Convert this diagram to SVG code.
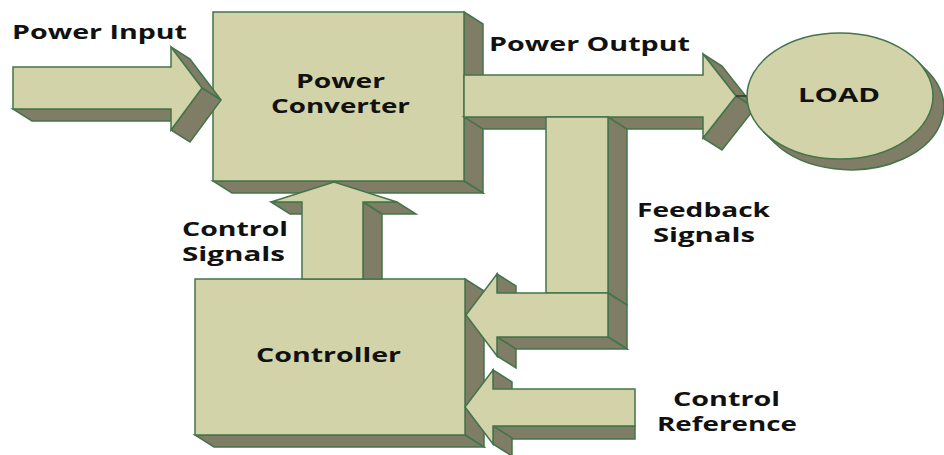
<svg xmlns="http://www.w3.org/2000/svg" width="944" height="455" viewBox="0 0 944 455">
<style>
.f{fill:#D3D3AA;stroke:#44744A;stroke-width:1.5;stroke-linejoin:miter}
.s{fill:#7F7D65;stroke:#44744A;stroke-width:1.5;stroke-linejoin:miter}
.t{font-family:"Open Sans","Noto Sans","DejaVu Sans",sans-serif;font-weight:bold;font-size:20px;fill:#111}
</style>
<rect width="944" height="455" fill="#fff"/>
<g id="power-converter">
  <polygon class="s" points="464,12 483,24 483,193 464,181"/>
  <polygon class="s" points="213,181 464,181 483,193 232,193"/>
  <rect class="f" x="213" y="12" width="251" height="169"/>
  <text class="t" x="296" y="88" textLength="89" lengthAdjust="spacingAndGlyphs">Power</text>
  <text class="t" x="271" y="113" textLength="139" lengthAdjust="spacingAndGlyphs">Converter</text>
</g>
<g id="controller">
  <polygon class="s" points="465,279 484,291 484,447 465,435"/>
  <polygon class="s" points="195,435 465,435 484,447 214,447"/>
  <rect class="f" x="195" y="279" width="270" height="156"/>
  <text class="t" x="256" y="362" textLength="145" lengthAdjust="spacingAndGlyphs">Controller</text>
</g>
<g id="connectors">
  <g id="power-input-arrow">
    <polygon class="s" points="13,109 171,109 190,121 32,121"/>
    <polygon class="s" points="171,47 202,88 221,100 190,59"/>
    <polygon class="s" points="202,88 171,130 190,142 221,100"/>
    <polygon class="f" points="13,67 171,67 171,47 202,88 171,130 171,109 13,109"/>
  </g>
  <g id="control-signals-arrow">
    <polygon class="s" points="271,202 302,202 321,214 290,214"/>
    <polygon class="s" points="363,202 397,202 416,214 382,214"/>
    <polygon class="s" points="363,202 382,214 382,279 363,279"/>
    <polygon class="f" points="302,279 302,202 271,202 334,182 397,202 363,202 363,279"/>
  </g>
  <g id="power-output-arrow">
    <polygon class="s" points="464,117 703,117 722,129 483,129"/>
    <polygon class="s" points="703,54 736,96 755,108 722,66"/>
    <polygon class="s" points="736,96 703,138 722,150 755,108"/>
    <polygon class="f" points="464,75 703,75 703,54 736,96 703,138 703,117 464,117"/>
  </g>
  <g id="feedback-arrow">
    <polygon class="s" points="608,117 627,129 627,305 608,293"/>
    <polygon class="s" points="608,293 627,305 627,349 608,337"/>
    <polygon class="s" points="497,337 608,337 627,349 516,349"/>
    <polygon class="s" points="497,337 497,356 516,368 516,349"/>
    <polygon class="s" points="497,274 516,286 516,305 497,293"/>
    <rect class="f" x="546" y="117" width="62" height="176"/>
    <polygon class="f" points="608,293 608,337 497,337 497,356 466,315 497,274 497,293"/>
  </g>
  <g id="control-reference-arrow">
    <polygon class="s" points="493,426 635,426 635,439 512,439"/>
    <polygon class="s" points="493,426 493,444 512,456 512,438"/>
    <polygon class="s" points="493,370 512,382 512,401 493,389"/>
    <polygon class="f" points="635,389 635,426 493,426 493,444 465,407 493,370 493,389"/>
  </g>
  <line x1="736" y1="96" x2="749" y2="96" stroke="#222" stroke-width="1.2"/>
</g>
<g id="load">
  <path class="s" d="M917,60.7 L929,72.7 A93,63 0 0 1 775,143.3 L763,131.3 A93,63 0 0 0 917,60.7 Z"/>
  <ellipse class="f" cx="840" cy="96" rx="93" ry="63"/>
  <text class="t" x="798" y="102" textLength="82" lengthAdjust="spacingAndGlyphs">LOAD</text>
</g>
<g id="labels">
  <text class="t" x="12" y="39" textLength="175" lengthAdjust="spacingAndGlyphs">Power Input</text>
  <text class="t" x="489" y="51" textLength="201" lengthAdjust="spacingAndGlyphs">Power Output</text>
  <text class="t" x="637" y="217" textLength="133" lengthAdjust="spacingAndGlyphs">Feedback</text>
  <text class="t" x="653" y="242" textLength="102" lengthAdjust="spacingAndGlyphs">Signals</text>
  <text class="t" x="182" y="236" textLength="106" lengthAdjust="spacingAndGlyphs">Control</text>
  <text class="t" x="182" y="261" textLength="103" lengthAdjust="spacingAndGlyphs">Signals</text>
  <text class="t" x="673" y="406" textLength="107" lengthAdjust="spacingAndGlyphs">Control</text>
  <text class="t" x="657" y="431" textLength="140" lengthAdjust="spacingAndGlyphs">Reference</text>
</g>
</svg>
